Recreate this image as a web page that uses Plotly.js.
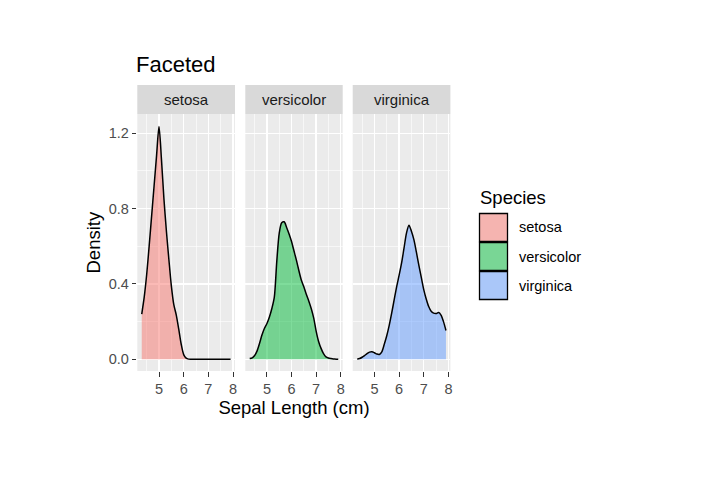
<!DOCTYPE html>
<html>
<head>
<meta charset="utf-8">
<script src="https://cdn.plot.ly/plotly-3.0.1.min.js"></script>
<style>html,body{margin:0;padding:0;background:#fff;}#chart{width:720px;height:480px;}</style>
</head>
<body>
<div id="chart"></div>
<script>
// ---- data ----
var species = ["setosa", "versicolor", "virginica"];
var sepalLength = [4.3,4.4,4.5,4.6,4.7,4.8,4.9,5.0,5.1,5.2,5.3,5.4,5.5,5.6,5.7,5.8,5.9,6.0,6.1,6.2,6.3,6.4,6.5,6.6,6.7,6.8,6.9,7.0,7.1,7.2,7.3,7.4,7.5,7.6,7.7,7.8,7.9];
var densitySetosa = [0.24,0.33,0.45,0.60,0.76,0.92,1.08,1.235,1.06,0.85,0.68,0.53,0.39,0.29,0.235,0.16,0.08,0.025,0.006,0.001,0,0,0,0,0,0,0,0,0,0,0,0,0,0,0,0,0];
var densityVersicolor = [0.004,0.008,0.02,0.045,0.085,0.13,0.165,0.19,0.225,0.27,0.33,0.52,0.67,0.725,0.73,0.70,0.665,0.625,0.575,0.525,0.47,0.42,0.385,0.345,0.31,0.27,0.22,0.15,0.095,0.058,0.03,0.013,0.007,0.004,0.002,0.001,0.0];
var densityVirginica = [0.001,0.004,0.011,0.02,0.03,0.038,0.04,0.035,0.028,0.026,0.04,0.08,0.125,0.18,0.245,0.315,0.385,0.445,0.51,0.59,0.67,0.712,0.68,0.635,0.57,0.50,0.435,0.37,0.32,0.28,0.255,0.245,0.243,0.248,0.235,0.2,0.153];
var densities = [densitySetosa, densityVersicolor, densityVirginica];
var xTicks = [5, 6, 7, 8];
var yTicks = [0.0, 0.4, 0.8, 1.2];
var yTickText = ["0.0", "0.4", "0.8", "1.2"];

// ---- styling ----
var fills = ["rgba(248,118,109,0.5)", "rgba(0,186,56,0.5)", "rgba(97,156,255,0.5)"];
var W = 720, H = 480;
var panelX = [[137.3, 235.0], [245.3, 342.7], [352.7, 450.4]];
var panelTop = 114, panelBottom = 371, stripTop = 85;
var FONT = "Liberation Sans, Arial, sans-serif";
function px(x) { return x / W; }
function py(y) { return 1 - y / H; }

var axisNames = ["x", "x2", "x3"];
var traces = species.map(function (s, i) {
  return {
    type: "scatter", mode: "lines",
    x: sepalLength, y: densities[i],
    xaxis: axisNames[i], yaxis: "y",
    fill: "tozeroy", fillcolor: fills[i],
    line: { color: "#000000", width: 1.5, shape: "spline", smoothing: 0.8 },
    name: s, showlegend: false, hoverinfo: "skip"
  };
});

function xAxis(i) {
  var a = {
    domain: [px(panelX[i][0]), px(panelX[i][1])],
    range: [4.12, 8.08], anchor: "y",
    tickmode: "array", tickvals: xTicks, ticktext: xTicks.map(String),
    ticks: "outside", ticklen: 4.6, tickwidth: 1, tickcolor: "#333333",
    tickfont: { family: FONT, size: 14.5, color: "#4D4D4D" },
    showgrid: true, gridcolor: "#FFFFFF", gridwidth: 1.3,
    minor: { dtick: 0.5, tick0: 4.5, showgrid: true, gridcolor: "#FFFFFF", gridwidth: 0.6, ticks: "" },
    zeroline: false, showline: false, fixedrange: true
  };
  if (i === 1) {
    a.title = { text: "Sepal Length (cm)", font: { family: FONT, size: 18.5, color: "#000000" }, standoff: 4 };
  }
  return a;
}

var shapes = [];
var annotations = [];
// strips
species.forEach(function (s, i) {
  shapes.push({ type: "rect", xref: "paper", yref: "paper",
    x0: px(panelX[i][0]), x1: px(panelX[i][1]), y0: py(panelTop), y1: py(stripTop),
    fillcolor: "#D9D9D9", line: { width: 0 }, layer: "below" });
  annotations.push({ xref: "paper", yref: "paper",
    x: px((panelX[i][0] + panelX[i][1]) / 2), y: py((panelTop + stripTop) / 2),
    xanchor: "center", yanchor: "middle", showarrow: false, text: s,
    font: { family: FONT, size: 15, color: "#1A1A1A" } });
});
// y title
annotations.push({ xref: "paper", yref: "paper", x: px(93), y: py((panelTop + panelBottom) / 2),
  xanchor: "center", yanchor: "middle", showarrow: false, text: "Density", textangle: -90,
  font: { family: FONT, size: 18.5, color: "#000000" } });
// legend
annotations.push({ xref: "paper", yref: "paper", x: px(478), y: py(197),
  xanchor: "left", yanchor: "middle", showarrow: false, text: "Species",
  font: { family: FONT, size: 18.5, color: "#000000" } });
var keyTop = 213, keySize = 29;
species.forEach(function (s, i) {
  var t = keyTop + i * keySize;
  shapes.push({ type: "rect", xref: "paper", yref: "paper",
    x0: px(479.5), x1: px(507.5), y0: py(t + keySize - 0.5), y1: py(t + 0.5),
    fillcolor: "#F2F2F2", line: { width: 0 } });
  shapes.push({ type: "rect", xref: "paper", yref: "paper",
    x0: px(479.5), x1: px(507.5), y0: py(t + keySize - 0.5), y1: py(t + 0.5),
    fillcolor: fills[i], line: { color: "#000000", width: 1.3 } });
  annotations.push({ xref: "paper", yref: "paper", x: px(517), y: py(t + keySize / 2),
    xanchor: "left", yanchor: "middle", showarrow: false, text: s,
    font: { family: FONT, size: 14.5, color: "#000000" } });
});

var layout = {
  width: W, height: H,
  margin: { l: 0, r: 0, t: 0, b: 0, pad: 0 },
  paper_bgcolor: "#FFFFFF", plot_bgcolor: "#EBEBEB",
  showlegend: false,
  title: { text: "Faceted", x: px(136), xanchor: "left", xref: "container",
    y: py(64), yanchor: "middle", yref: "container",
    font: { family: FONT, size: 22, color: "#000000" } },
  xaxis: xAxis(0), xaxis2: xAxis(1), xaxis3: xAxis(2),
  yaxis: {
    domain: [py(panelBottom), py(panelTop)], range: [-0.062, 1.302], anchor: "x",
    tickmode: "array", tickvals: yTicks, ticktext: yTickText,
    ticks: "outside", ticklen: 4.6, tickwidth: 1, tickcolor: "#333333",
    tickfont: { family: FONT, size: 14.5, color: "#4D4D4D" },
    showgrid: true, gridcolor: "#FFFFFF", gridwidth: 1.3,
    minor: { dtick: 0.2, tick0: 0.2, showgrid: true, gridcolor: "#FFFFFF", gridwidth: 0.6, ticks: "" },
    zeroline: false, showline: false, fixedrange: true
  },
  shapes: shapes,
  annotations: annotations
};

Plotly.newPlot("chart", traces, layout, { staticPlot: true, displayModeBar: false });
</script>
</body>
</html>
